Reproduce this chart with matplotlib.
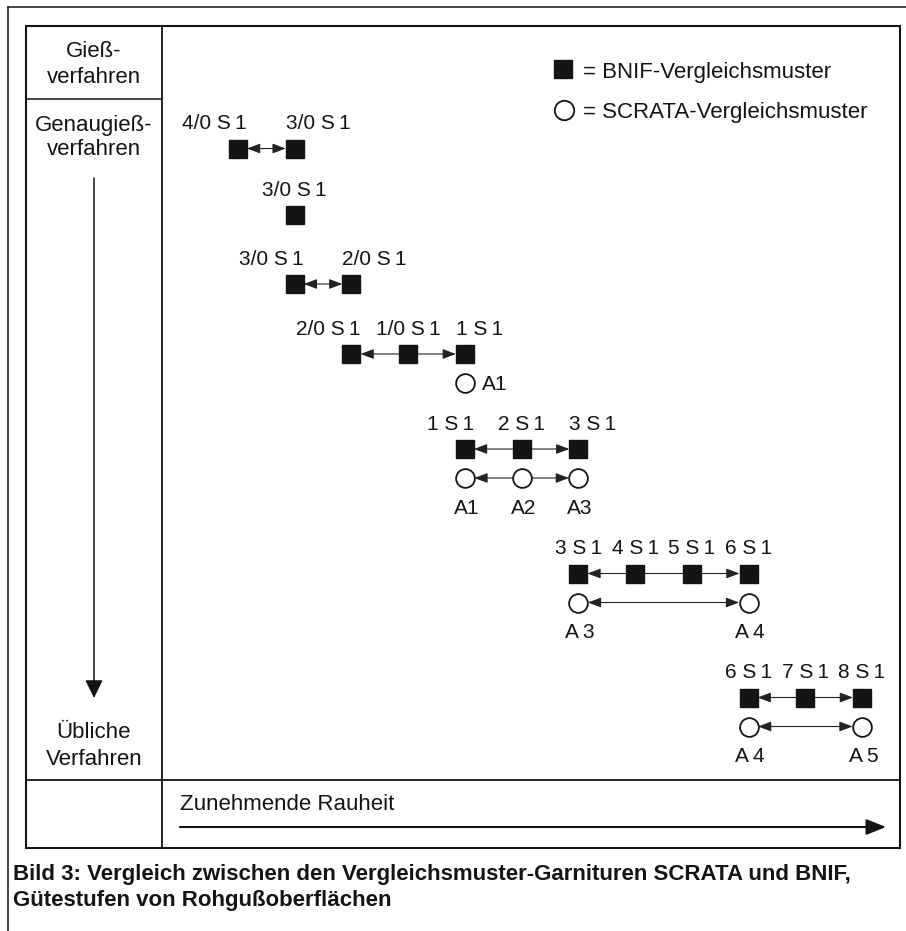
import matplotlib
matplotlib.use("Agg")
import matplotlib.pyplot as plt
from matplotlib.patches import FancyArrowPatch, Rectangle

plt.rcParams['font.family'] = ['Liberation Sans', 'DejaVu Sans']

# ---------------- data ----------------
bnif_scale = ["4/0", "3/0", "2/0", "1/0", "1", "2", "3", "4", "5", "6", "7", "8"]
scrata_names = ["A1", "A2", "A3", "A4", "A5"]
scrata_equiv = ["1", "2", "3", "6", "8"]          # BNIF grade each SCRATA grade lines up with
group_bnif = [["4/0", "3/0"], ["3/0"], ["3/0", "2/0"], ["2/0", "1/0", "1"],
              ["1", "2", "3"], ["3", "4", "5", "6"], ["6", "7", "8"]]
group_scrata = [[], [], [], ["A1"], ["A1", "A2", "A3"], ["A3", "A4"], ["A4", "A5"]]
process_labels = [["Gieß-", "verfahren"], ["Genaugieß-", "verfahren"], ["Übliche", "Verfahren"]]
axis_label = "Zunehmende Rauheit"
legend_labels = ["= BNIF-Vergleichsmuster", "= SCRATA-Vergleichsmuster"]
caption = ["Bild 3: Vergleich zwischen den Vergleichsmuster-Garnituren SCRATA und BNIF,",
           "Gütestufen von Rohgußoberflächen"]

# ---------------- layout ----------------
W, H = 906, 931
FS = 16       # body text
FS_MARK = 15  # labels at the markers
INK = '#141414'
fig = plt.figure(figsize=(W / 100, H / 100), dpi=100)
fig.patch.set_facecolor('white')

ax = fig.add_axes([0, 0, 1, 1])
ax.set_xlim(0, W); ax.set_ylim(H, 0); ax.axis('off')

x0, step = 238, 56.73
dax = fig.add_axes([0, 0, 1, 1])
dax.set_xlim(-x0 / step, (W - x0) / step); dax.set_ylim(H, 0); dax.axis('off')
dax.patch.set_alpha(0)

group_y = [148.5, 215, 284, 354, 449, 573.5, 697.5]
label_mode = ['spread', 'spread', 'spread', 'spread', 'spread', 'center', 'center']
circle_dy = 29

# frame
ax.plot([8, 906], [7, 7], color=INK, lw=1.1)
ax.plot([8, 8], [7, 931], color=INK, lw=1.1)
ax.add_patch(Rectangle((26, 26), 874, 822, fill=False, ec=INK, lw=1.5))
ax.plot([162, 162], [26, 848], color=INK, lw=1.3)
ax.plot([26, 162], [99, 99], color=INK, lw=1.1)
ax.plot([26, 900], [780, 780], color=INK, lw=1.3)

# left column texts
col_baselines = [[57, 83], [131, 155], [738, 765]]
for lines, bls in zip(process_labels, col_baselines):
    for t, b in zip(lines, bls):
        ax.text(94, b, t, ha='center', va='baseline', fontsize=FS, color=INK)

ax.add_patch(FancyArrowPatch((94, 178), (94, 698),
                             arrowstyle='-|>,head_length=11,head_width=5.4',
                             mutation_scale=1, lw=1.1, color=INK,
                             shrinkA=0, shrinkB=0))

# bottom row
ax.text(180, 810, axis_label, ha='left', va='baseline', fontsize=FS, color=INK)
ax.add_patch(FancyArrowPatch((180, 827), (886, 827),
                             arrowstyle='-|>,head_length=12,head_width=4.8',
                             mutation_scale=1, lw=1.5, color=INK,
                             shrinkA=0, shrinkB=0))

# legend
ax.plot([563], [69], 's', ms=13, color=INK)
ax.plot([564], [110], 'o', ms=14, mfc='white', mec=INK, mew=1.3)
ax.text(583, 78, legend_labels[0], ha='left', va='baseline', fontsize=FS, color=INK)
ax.text(583, 118, legend_labels[1], ha='left', va='baseline', fontsize=FS, color=INK)

# caption
ax.text(13, 880, caption[0], ha='left', va='baseline', fontsize=16, fontweight='bold', color=INK)
ax.text(13, 906, caption[1], ha='left', va='baseline', fontsize=16, fontweight='bold', color=INK)


def link(xs, y, shrink):
    n = len(xs)
    kw = dict(mutation_scale=1, lw=0.8, color='#222222', shrinkA=shrink, shrinkB=shrink, zorder=2)
    head = ',head_length=8,head_width=3'
    if n == 2:
        dax.add_patch(FancyArrowPatch((xs[0], y), (xs[1], y), arrowstyle='<|-|>' + head, **kw))
    elif n >= 3:
        dax.add_patch(FancyArrowPatch((xs[1], y), (xs[0], y), arrowstyle='-|>' + head, **kw))
        dax.add_patch(FancyArrowPatch((xs[-2], y), (xs[-1], y), arrowstyle='-|>' + head, **kw))
        for a, b in zip(xs[1:-2], xs[2:-1]):
            dax.add_patch(FancyArrowPatch((a, y), (b, y), arrowstyle='-', **kw))


for gi, (names, gy) in enumerate(zip(group_bnif, group_y)):
    xs = [bnif_scale.index(n) for n in names]
    dax.plot(xs, [gy] * len(xs), 's', ms=13, color=INK, linestyle='none', zorder=3)
    link(xs, gy, 6.5)
    n = len(xs)
    for k, (name, x) in enumerate(zip(names, xs)):
        ha, dx = 'center', 0
        if label_mode[gi] == 'spread' and n > 1:
            if k == 0:
                ha, dx = 'right', 6.5
            elif k == n - 1:
                ha, dx = 'left', -6.5
        dax.annotate(name + " S\u20091", xy=(x, gy), xytext=(dx, 13.7),
                     textcoords='offset points', ha=ha, va='baseline',
                     fontsize=FS_MARK, color=INK)

    snames = group_scrata[gi]
    if snames:
        sx = [bnif_scale.index(scrata_equiv[scrata_names.index(s)]) for s in snames]
        cy = gy + circle_dy
        link(sx, cy, 6.8)
        dax.plot(sx, [cy] * len(sx), 'o', ms=13.5, mfc='white', mec=INK, mew=1.3,
                 linestyle='none', zorder=3)
        for s, x in zip(snames, sx):
            txt = s if label_mode[gi] == 'spread' else s[0] + "\u2009" + s[1:]
            if len(snames) == 1:
                dax.annotate(txt, xy=(x, cy), xytext=(12.2, -4.7), textcoords='offset points',
                             ha='left', va='baseline', fontsize=FS_MARK, color=INK)
            else:
                dax.annotate(txt, xy=(x, cy), xytext=(1.2, -25.9), textcoords='offset points',
                             ha='center', va='baseline', fontsize=FS_MARK, color=INK)

fig.savefig('out.png', dpi=100, facecolor='white')
